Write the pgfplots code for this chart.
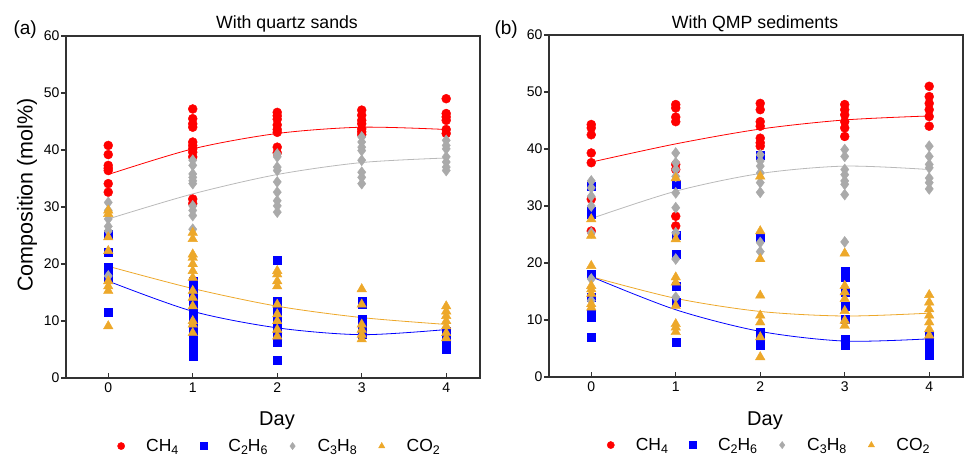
\documentclass[border=0pt]{standalone}
\usepackage{pgfplots}
\pgfplotsset{compat=1.18}
\usepackage{fontspec}
\setmainfont{Liberation Sans}
\definecolor{cred}{RGB}{255,0,0}
\definecolor{cblue}{RGB}{0,0,255}
\definecolor{cgray}{RGB}{170,170,170}
\definecolor{corange}{RGB}{237,168,42}
\definecolor{cgrayl}{RGB}{185,185,185}
\definecolor{axcol}{RGB}{50,50,50}
\pgfplotsset{
  panel/.style={
    scale only axis, width=414pt, height=342pt,
    xmin=-0.5, xmax=4.4, ymin=0, ymax=60,
    xtick={0,1,2,3,4}, ytick={0,10,...,60},
    tick pos=left, tick align=inside,
    major tick length=5pt,
    axis line style={line width=1.4pt, color=axcol},
    every tick/.style={line width=1.1pt, color=axcol},
    ytick style={xshift=-5pt},
    tick label style={font=\fontsize{14}{16}\selectfont},
    yticklabel style={xshift=-3pt},
    xticklabel style={yshift=-1pt},
    /pgf/number format/assume math mode=true,
    legend columns=4,
    legend style={draw=none, fill=none, anchor=center,
      font=\fontsize{17.5}{19}\selectfont,
      /tikz/every even column/.append style={column sep=15pt}},
    legend image code/.code={\path[draw=none, fill=none] (0pt,0pt) -- (31pt,0pt);
       \draw[#1, mark size=3.6pt] plot coordinates {(8pt,0pt)};},
  },
  sCH/.style={only marks, mark=*, mark size=4.5pt, color=cred, mark options={draw=cred, fill=cred}},
  sC2/.style={only marks, mark=square*, mark size=4pt, color=cblue, mark options={draw=cblue, fill=cblue}},
  sC3/.style={only marks, mark=diamond*, mark size=5.5pt, color=cgray, mark options={draw=cgray, fill=cgray}},
  sCO/.style={only marks, mark=triangle*, mark size=5.5pt, color=corange, mark options={draw=corange, fill=corange}},
  fit/.style={smooth, no markers, line width=0.8pt, forget plot},
}
\newcommand{\sub}[1]{\raisebox{-0.35ex}{\fontsize{12.5}{12.5}\selectfont #1}}
\begin{document}
\begin{tikzpicture}
\path[use as bounding box] (0pt,0pt) rectangle (968pt,-459pt);

% ---------------- panel (a)
\begin{axis}[panel, at={(66pt,-36pt)}, anchor=north west,
  legend style={at={(0.511,-0.199)}}]
\addplot[sCH] coordinates {
(0,40.8)(0,39.2)(0,37.3)(0,36.8)(0,36.4)(0,34.1)(0,32.6)
(1,47.2)(1,45.5)(1,44.6)(1,44.0)(1,41.4)(1,40.8)(1,40.2)(1,39.6)(1,38.8)(1,31.4)(1,30.6)
(2,46.6)(2,46.0)(2,45.4)(2,44.4)(2,43.6)(2,43.1)(2,40.5)(2,39.5)
(3,47.0)(3,46.1)(3,45.2)(3,44.6)(3,43.7)(3,43.2)(3,42.7)
(4,49.0)(4,46.4)(4,45.8)(4,45.2)(4,43.6)(4,42.9)};
\addlegendentry{CH\sub{4}}
\addplot[sC2] coordinates {
(0,25.2)(0,22.0)(0,19.4)(0,18.6)(0,17.6)(0,11.5)
(1,17.0)(1,16.0)(1,15.0)(1,14.1)(1,13.0)(1,12.3)(1,11.3)(1,10.6)(1,9.6)(1,8.8)(1,7.8)(1,7.0)(1,5.9)(1,4.8)(1,3.9)
(2,20.6)(2,13.5)(2,12.3)(2,11.0)(2,9.8)(2,8.8)(2,7.5)(2,6.2)(2,3.2)
(3,13.5)(3,13.0)(3,10.3)(3,8.8)(3,7.6)
(4,8.2)(4,7.2)(4,6.5)(4,5.0)};
\addlegendentry{C\sub{2}H\sub{6}}
\addplot[sC3] coordinates {
(0,30.8)(0,29.4)(0,27.9)(0,26.6)(0,25.8)(0,17.9)
(1,38.2)(1,37.3)(1,35.8)(1,35.2)(1,34.6)(1,34.1)(1,30.2)(1,29.4)(1,28.5)(1,26.1)
(2,39.3)(2,38.8)(2,37.0)(2,36.4)(2,34.4)(2,32.6)(2,31.1)(2,30.2)(2,29.1)
(3,42.3)(3,41.4)(3,40.5)(3,39.9)(3,38.2)(3,36.1)(3,35.2)(3,34.1)
(4,41.7)(4,40.8)(4,40.2)(4,38.8)(4,37.9)(4,37.0)(4,36.4)};
\addlegendentry{C\sub{3}H\sub{8}}
\addplot[sCO] coordinates {
(0,29.4)(0,28.8)(0,24.7)(0,22.3)(0,17.0)(0,16.1)(0,15.3)(0,9.1)
(1,25.5)(1,24.4)(1,21.7)(1,21.1)(1,20.0)(1,18.8)(1,17.6)(1,15.3)(1,14.1)(1,12.6)(1,10.0)(1,9.4)(1,7.9)
(2,18.8)(2,18.2)(2,17.0)(2,16.1)(2,12.9)(2,11.2)(2,10.0)(2,8.5)(2,7.3)
(3,15.6)(3,12.9)(3,9.4)(3,8.5)(3,7.6)(3,6.8)
(4,12.6)(4,11.7)(4,10.9)(4,10.0)(4,9.1)(4,7.9)(4,7.0)};
\addlegendentry{CO\sub{2}}
\addplot[fit, cred] coordinates {(0,35.7)(1,40.2)(2,42.9)(3,44.0)(4,43.6)};
\addplot[fit, cgrayl] coordinates {(0,27.9)(1,32.3)(2,35.7)(3,37.8)(4,38.6)};
\addplot[fit, corange] coordinates {(0,19.6)(1,15.7)(2,12.6)(3,10.6)(4,9.4)};
\addplot[fit, cblue] coordinates {(0,17.0)(1,11.7)(2,8.8)(3,7.6)(4,8.5)};
\end{axis}

% ---------------- panel (b)
\begin{axis}[panel, at={(549pt,-35pt)}, anchor=north west,
  legend style={at={(0.527,-0.199)}}]
\addplot[sCH] coordinates {
(0,44.3)(0,43.7)(0,42.5)(0,39.3)(0,37.6)(0,31.2)(0,25.6)
(1,47.8)(1,47.2)(1,45.6)(1,44.8)(1,37.3)(1,36.4)(1,28.2)(1,26.5)
(2,48.0)(2,46.9)(2,44.8)(2,44.0)(2,41.9)(2,41.1)(2,40.5)
(3,47.8)(3,46.9)(3,46.0)(3,44.8)(3,43.7)(3,42.2)
(4,51.0)(4,49.2)(4,48.0)(4,46.9)(4,45.7)(4,44.0)};
\addlegendentry{CH\sub{4}}
\addplot[sC2] coordinates {
(0,33.5)(0,29.1)(0,28.5)(0,18.1)(0,14.0)(0,11.1)(0,10.5)(0,7.0)
(1,33.8)(1,24.8)(1,21.5)(1,16.0)(1,13.1)(1,6.1)
(2,39.0)(2,24.5)(2,7.9)(2,6.5)(2,5.5)
(3,18.6)(3,17.5)(3,14.9)(3,12.5)(3,10.2)(3,6.7)(3,5.5)
(4,7.3)(4,5.8)(4,4.7)(4,3.8)};
\addlegendentry{C\sub{2}H\sub{6}}
\addplot[sC3] coordinates {
(0,34.4)(0,33.2)(0,31.7)(0,30.0)(0,25.3)(0,17.2)(0,13.4)
(1,39.3)(1,37.6)(1,36.4)(1,35.2)(1,32.3)(1,29.7)(1,25.3)(1,20.7)(1,14.0)
(2,39.0)(2,37.9)(2,37.0)(2,35.8)(2,34.1)(2,32.4)(2,23.6)(2,22.0)
(3,39.9)(3,38.7)(3,36.4)(3,35.5)(3,34.4)(3,33.8)(3,32.0)(3,23.7)
(4,40.5)(4,38.7)(4,37.3)(4,36.7)(4,34.9)(4,34.1)(4,33.0)};
\addlegendentry{C\sub{3}H\sub{8}}
\addplot[sCO] coordinates {
(0,27.7)(0,24.8)(0,19.5)(0,16.0)(0,15.4)(0,14.6)(0,12.8)(0,12.2)
(1,34.9)(1,24.2)(1,17.5)(1,16.6)(1,12.5)(1,9.3)(1,8.7)(1,7.9)
(2,35.2)(2,25.6)(2,20.7)(2,14.3)(2,10.8)(2,9.6)(2,7.0)(2,3.5)
(3,21.7)(3,16.0)(3,14.9)(3,13.7)(3,11.6)(3,9.9)(3,9.0)
(4,14.4)(4,13.1)(4,11.9)(4,10.8)(4,9.6)(4,8.4)(4,7.3)};
\addlegendentry{CO\sub{2}}
\addplot[fit, cred] coordinates {(0,37.7)(1,40.9)(2,43.5)(3,45.1)(4,45.8)};
\addplot[fit, cgrayl] coordinates {(0,27.8)(1,32.6)(2,35.7)(3,37.0)(4,36.4)};
\addplot[fit, corange] coordinates {(0,17.6)(1,13.8)(2,11.5)(3,10.7)(4,11.2)};
\addplot[fit, cblue] coordinates {(0,17.6)(1,11.8)(2,8.0)(3,6.3)(4,6.7)};
\end{axis}

% ---------------- labels
\node[anchor=base west, font=\fontsize{19}{21}\selectfont] at (10pt,-34pt) {(a)};
\node[anchor=base west, font=\fontsize{19}{21}\selectfont] at (491pt,-34pt) {(b)};
\node[anchor=base, font=\fontsize{17.7}{20}\selectfont] at (287pt,-28pt) {With quartz sands};
\node[anchor=base, font=\fontsize{17.7}{20}\selectfont] at (755pt,-28pt) {With QMP sediments};
\node[rotate=90, font=\fontsize{21.5}{24}\selectfont] at (27pt,-195pt) {Composition (mol\%)};
\node[anchor=base, font=\fontsize{20}{22}\selectfont] at (277pt,-425pt) {Day};
\node[anchor=base, font=\fontsize{20}{22}\selectfont] at (765pt,-425pt) {Day};
\end{tikzpicture}
\end{document}
